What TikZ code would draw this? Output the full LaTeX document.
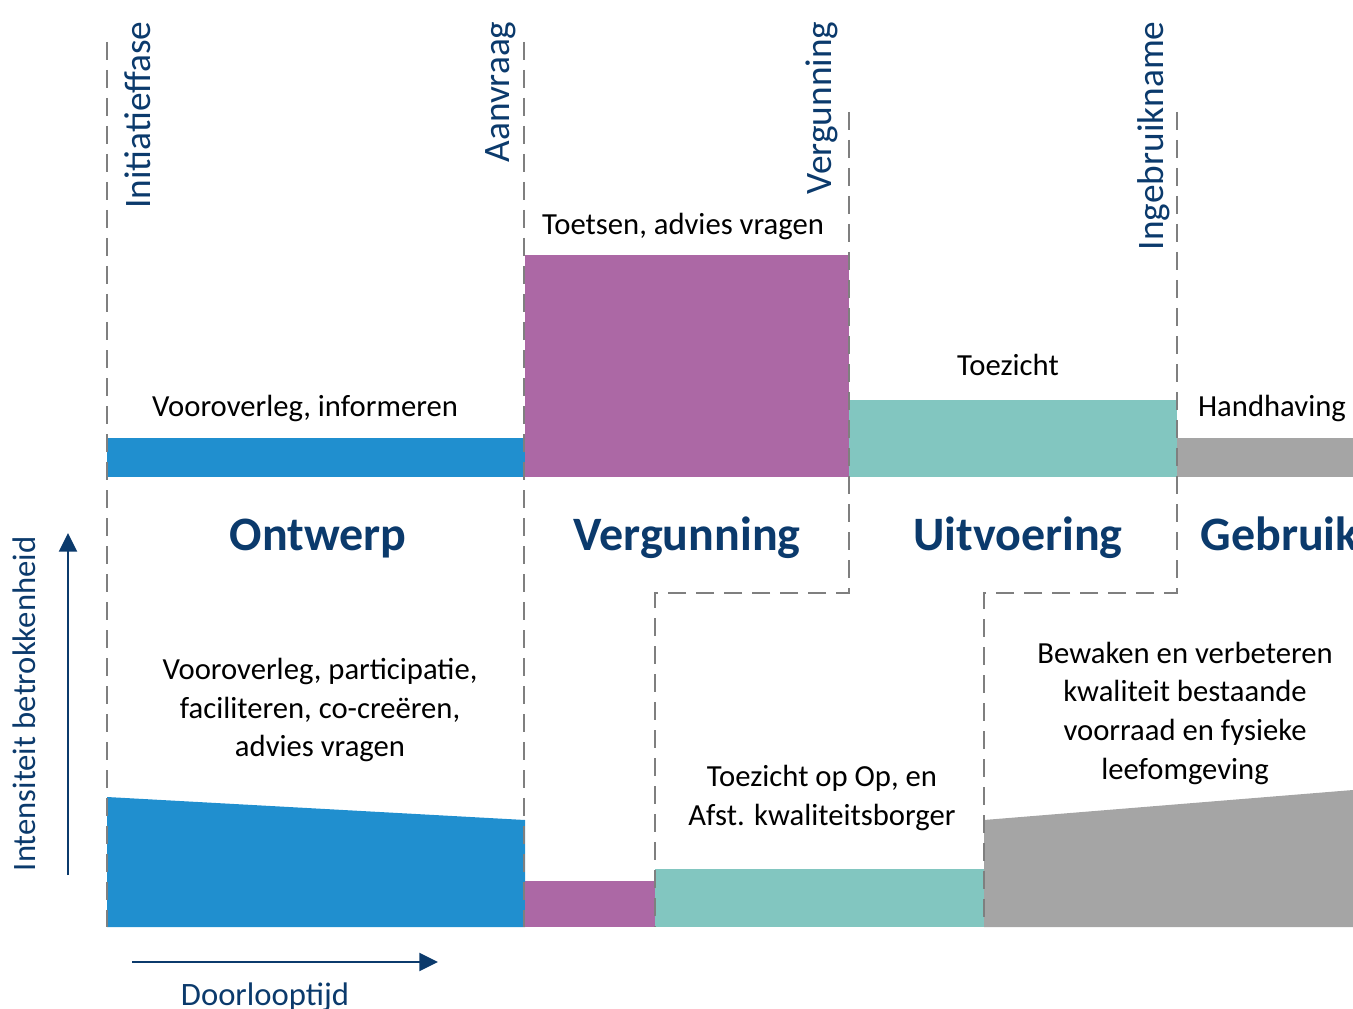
\documentclass[tikz,border=0pt]{standalone}
\usepackage{fontspec}
\setmainfont{Carlito}
\usetikzlibrary{arrows.meta}

\definecolor{ontwerpblauw}{HTML}{208FCF}
\definecolor{vergunningpaars}{HTML}{AC68A5}
\definecolor{uitvoeringgroen}{HTML}{82C6C0}
\definecolor{gebruikgrijs}{HTML}{A5A5A5}
\definecolor{lijngrijs}{HTML}{7F7F7F}
\definecolor{donkerblauw}{HTML}{0B3A6C}

\tikzset{every picture/.style={line width=0.75pt}}
\tikzset{
  faselijn/.style={draw=lijngrijs, line width=1.7pt, dash pattern=on 13.5pt off 7.5pt},
  mijlpaal/.style={text=donkerblauw, inner sep=0pt, rotate=90, anchor=base east, font=\fontsize{28}{34}\selectfont},
  taak/.style={inner sep=0pt, align=center, font=\fontsize{23}{29}\selectfont},
  fasenaam/.style={text=donkerblauw, inner sep=0pt, anchor=base, font=\fontsize{36}{43}\selectfont\bfseries},
  as/.style={draw=donkerblauw, line width=1.5pt, -{Triangle[length=14pt,width=13.5pt]}},
  aslabel/.style={text=donkerblauw, inner sep=0pt, font=\fontsize{24.5}{29}\selectfont}
}

\begin{document}
\begin{tikzpicture}[x=0.75pt,y=0.75pt,yscale=-1,xscale=1]
\clip (0,0) rectangle (1353,1009);

%Shape: Rectangle [top bars]
\fill [ontwerpblauw] (107,438) rectangle (525,477);
\fill [vergunningpaars] (525,255) rectangle (849,477);
\fill [uitvoeringgroen] (849,400) rectangle (1177,477);
\fill [gebruikgrijs] (1177,438) rectangle (1353,477);

%Shape: Polygon [bottom bars]
\fill [ontwerpblauw] (107,797) -- (525,820) -- (525,927) -- (107,927) -- cycle;
\fill [vergunningpaars] (525,881) rectangle (655,927);
\fill [uitvoeringgroen] (655,869) rectangle (984,927);
\fill [gebruikgrijs] (984,820) -- (1353,790) -- (1353,927) -- (984,927) -- cycle;

%Dashed Lines [phase borders]
\draw [faselijn] (107,42) -- (107,927);
\draw [faselijn] (524,42) -- (524,927);
\draw [faselijn] (849,112) -- (849,593) -- (655,593) -- (655,927);
\draw [faselijn] (1177,112) -- (1177,593) -- (984,593) -- (984,927);

% Text Node
\node [mijlpaal] (initiatief) at (150,21) {Initiatieffase};
% Text Node
\node [mijlpaal] (aanvraag) at (509,21) {Aanvraag};
% Text Node
\node [mijlpaal] (vergunning) at (831,21) {Vergunning};
% Text Node
\node [mijlpaal] (ingebruik) at (1163,21) {Ingebruikname};

% Text Node
\node [taak, anchor=base] (vooroverleg) at (305,416) {Vooroverleg, informeren};
% Text Node
\node [taak, anchor=base] (toetsen) at (683,235) {Toetsen, advies vragen};
% Text Node
\node [taak, anchor=base] (toezicht) at (1008,375) {Toezicht};
% Text Node
\node [taak, anchor=base] (handhaving) at (1272,416) {Handhaving};

% Text Node
\node [fasenaam] (ontwerp) at (318,550) {Ontwerp};
% Text Node
\node [fasenaam] (vergunningfase) at (687,550) {Vergunning};
% Text Node
\node [fasenaam] (uitvoering) at (1018,550) {Uitvoering};
% Text Node
\node [fasenaam, anchor=base west] (gebruik) at (1200,550) {Gebruik};

% Text Node
\node [taak] (participatie) at (320,710) {Vooroverleg, participatie,\\faciliteren, co-creëren,\\advies vragen};
% Text Node
\node [taak] (toezichtop) at (822,798) {Toezicht op Op, en\\Afst. kwaliteitsborger};
% Text Node
\node [taak] (bewaken) at (1185,713) {Bewaken en verbeteren\\kwaliteit bestaande\\voorraad en fysieke\\leefomgeving};

%Straight Lines [axes]
\coordinate (yvoet) at (68,875);
\coordinate (ytop) at (68,533);
\coordinate (xvoet) at (132,962);
\coordinate (xtop) at (438,962);
\draw [as] (yvoet) -- (ytop);
\draw [as] (xvoet) -- (xtop);

% Text Node
\node [aslabel, rotate=90, anchor=base] (intensiteit) at (35,704) {Intensiteit betrokkenheid};
% Text Node
\node [aslabel, anchor=base] (doorlooptijd) at (265,1005) {Doorlooptijd};

\end{tikzpicture}
\end{document}
